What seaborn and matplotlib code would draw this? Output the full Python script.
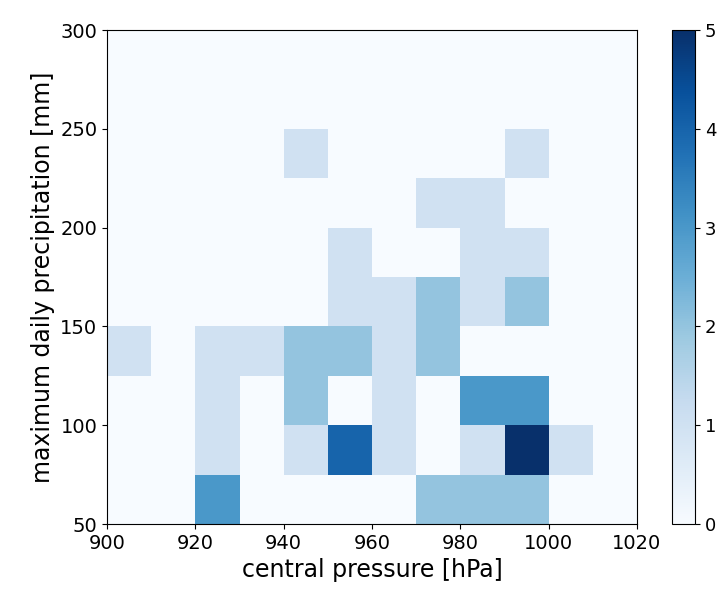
import matplotlib
matplotlib.use("Agg")
import matplotlib.pyplot as plt
import seaborn as sns
import numpy as np
import pandas as pd

# bin centers (hPa, mm) and counts for non-empty cells
pressure = [925, 975, 985, 995,
            925, 945, 955, 965, 985, 995, 1005,
            925, 945, 965, 985, 995,
            905, 925, 935, 945, 955, 965, 975,
            955, 965, 975, 985, 995,
            955, 985, 995,
            975, 985,
            945, 995]
precip = [62.5, 62.5, 62.5, 62.5,
          87.5, 87.5, 87.5, 87.5, 87.5, 87.5, 87.5,
          112.5, 112.5, 112.5, 112.5, 112.5,
          137.5, 137.5, 137.5, 137.5, 137.5, 137.5, 137.5,
          162.5, 162.5, 162.5, 162.5, 162.5,
          187.5, 187.5, 187.5,
          212.5, 212.5,
          237.5, 237.5]
counts = [3, 2, 2, 2,
          1, 1, 4, 1, 1, 5, 1,
          1, 2, 1, 3, 3,
          1, 1, 1, 2, 2, 1, 2,
          1, 1, 2, 1, 2,
          1, 1, 1,
          1, 1,
          1, 1]

x_edges = list(range(900, 1021, 10))
y_edges = list(range(50, 301, 25))

df = pd.DataFrame({"pressure": pressure, "precip": precip, "count": counts})

fig = plt.figure(figsize=(7.23, 5.94), dpi=100)
ax = fig.add_axes([107/723, 1 - 524/594, 530/723, 494/594])
cax = fig.add_axes([672/723, 1 - 524/594, 23/723, 494/594])

sns.histplot(data=df, x="pressure", y="precip", weights="count",
             bins=[x_edges, y_edges], cmap="Blues", thresh=None,
             vmin=0, vmax=5, cbar=True, cbar_ax=cax, ax=ax)

ax.set_xlim(900, 1020)
ax.set_ylim(50, 300)
ax.set_xticks(range(900, 1021, 20))
ax.set_yticks(range(50, 301, 50))
ax.tick_params(labelsize=14)
ax.set_xlabel("central pressure [hPa]", fontsize=17)
ax.set_ylabel("maximum daily precipitation [mm]", fontsize=17)
cax.tick_params(labelsize=13)
cax.set_yticks(range(0, 6))

fig.savefig("out.png", dpi=100)
